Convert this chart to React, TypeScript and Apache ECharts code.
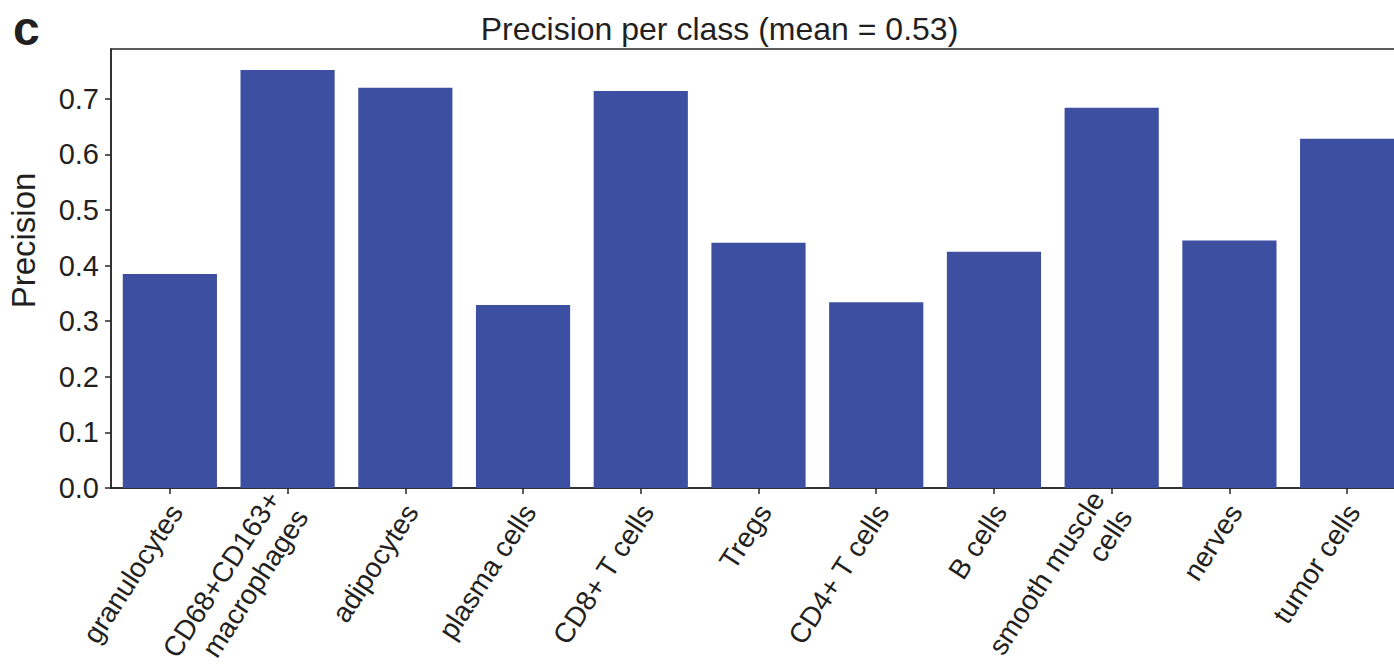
import React, { useEffect, useRef } from "react";
import * as echarts from "echarts";

const categories = [
  "granulocytes",
  "CD68+CD163+\nmacrophages",
  "adipocytes",
  "plasma cells",
  "CD8+ T cells",
  "Tregs",
  "CD4+ T cells",
  "B cells",
  "smooth muscle\ncells",
  "nerves",
  "tumor cells",
];
const precision = [0.385, 0.752, 0.72, 0.329, 0.714, 0.441, 0.334, 0.425, 0.684, 0.445, 0.628];
const yTicks = [0, 0.1, 0.2, 0.3, 0.4, 0.5, 0.6, 0.7];
const yMax = 0.7896;
const titleText = "Precision per class (mean = 0.53)";
const yName = "Precision";
const panelLetter = "c";

const FONT = "'Liberation Sans', Arial, Helvetica, sans-serif";
const INK = "#231f20";
const AXIS = "#262626";
const BAR = "#3d4fa0";

export default function App() {
  const ref = useRef<HTMLDivElement>(null);
  useEffect(() => {
    if (!ref.current) return;
    const chart = echarts.init(ref.current, undefined, { renderer: "svg" });
    chart.setOption({
      animation: false,
      backgroundColor: "#ffffff",
      title: {
        text: titleText,
        left: 714.5,
        top: 8,
        textAlign: "center",
        textStyle: { fontFamily: FONT, fontSize: 32, fontWeight: "normal", color: INK },
      },
      grid: {
        left: 111,
        top: 49,
        width: 1295,
        height: 439,
        containLabel: false,
        outerBoundsMode: "none",
        show: true,
        borderColor: AXIS,
        borderWidth: 1.5,
        backgroundColor: "transparent",
      },
      xAxis: {
        type: "category",
        data: categories,
        axisLine: { show: true, lineStyle: { color: AXIS, width: 1.5 } },
        axisTick: { show: true, alignWithLabel: true, length: 6, lineStyle: { color: AXIS, width: 1.5 } },
        axisLabel: {
          interval: 0,
          rotate: 57,
          margin: 15,
          fontSize: 28,
          lineHeight: 33,
          fontFamily: FONT,
          color: INK,
          formatter: (v: string) => (v.includes("\n") ? v : `{s|${v}}`),
          rich: {
            s: {
              fontSize: 28,
              lineHeight: 33,
              fontFamily: FONT,
              color: INK,
              padding: [15, 0, 0, 0],
            },
          },
        },
      },
      yAxis: {
        type: "value",
        min: 0,
        max: yMax,
        interval: 0.1,
        splitLine: { show: false },
        axisLine: { show: true, lineStyle: { color: AXIS, width: 1.5 } },
        axisTick: { show: true, length: 6, customValues: yTicks, lineStyle: { color: AXIS, width: 1.5 } },
        axisLabel: {
          customValues: yTicks,
          formatter: (v: number) => v.toFixed(1),
          margin: 12,
          fontSize: 29,
          fontFamily: FONT,
          color: INK,
        },
      },
      series: [
        {
          type: "bar",
          data: precision,
          barCategoryGap: "20%",
          itemStyle: { color: BAR },
        },
      ],
      graphic: [
        {
          type: "text",
          x: 13,
          y: 4,
          style: { text: panelLetter, font: `bold 48px ${FONT}`, fill: INK },
        },
        {
          type: "text",
          x: 23.5,
          y: 240.5,
          rotation: Math.PI / 2,
          style: {
            text: yName,
            font: `33px ${FONT}`,
            fill: INK,
            align: "center",
            verticalAlign: "middle",
          },
        },
      ],
    });
    return () => chart.dispose();
  }, []);
  return (
    <div
      ref={ref}
      style={{ position: "fixed", left: 0, top: 0, width: 1394, height: 672 }}
    />
  );
}
